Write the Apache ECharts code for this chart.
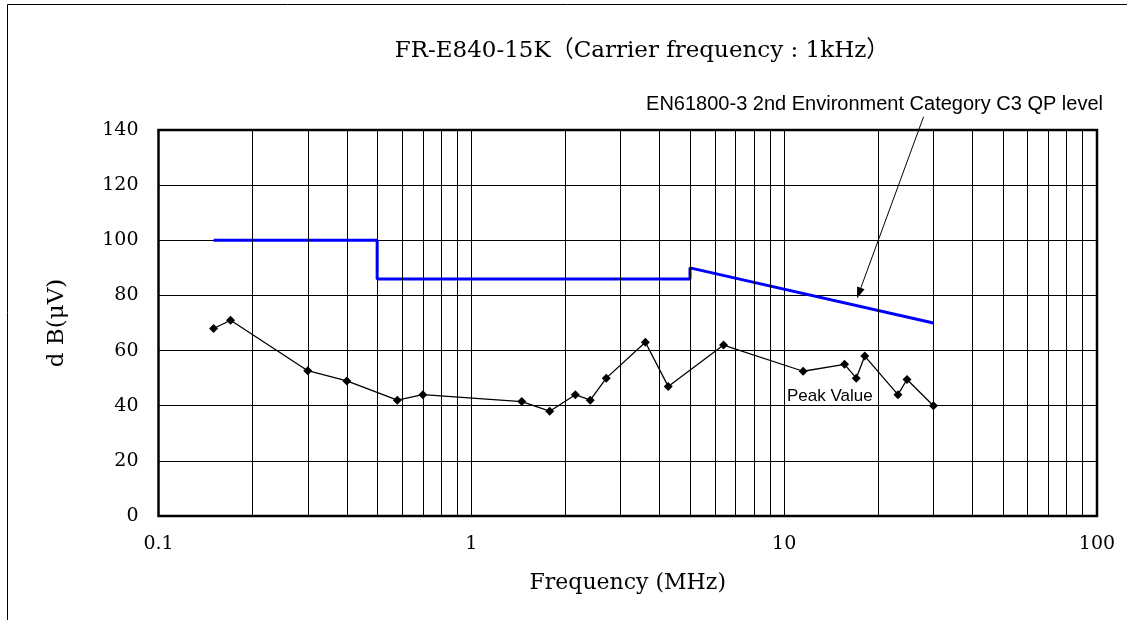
<!DOCTYPE html>
<html>
<head>
<meta charset="UTF-8">
<title>FR-E840-15K</title>
<script src="https://cdn.jsdelivr.net/npm/echarts@6/dist/echarts.min.js"></script>
<style>
  * { margin: 0; padding: 0; }
  body { background: #fff; }
  #chart { width: 1127px; height: 620px; }
</style>
</head>
<body>
<div id="chart"></div>
<script>
// peak value measurement (MHz / dBuV)
var peakFreq = [0.15, 0.17, 0.30, 0.40, 0.58, 0.70, 1.45, 1.78, 2.15, 2.40, 2.70, 3.60, 4.26, 6.4, 11.5, 15.6, 17.0, 18.1, 23.1, 24.7, 30];
var peakVal  = [68, 71, 52.7, 49, 42, 44, 41.5, 38, 44, 42, 50, 63, 47, 62, 52.5, 55, 50, 58, 44, 49.5, 40];

// EN61800-3 C3 QP limit
var limitFreq = [0.15, 0.5, 0.5, 5, 5, 30];
var limitVal  = [100, 100, 86, 86, 90, 70];

// minor vertical grid lines of the log axis
var minorGrid = [0.2, 0.3, 0.4, 0.5, 0.6, 0.7, 0.8, 0.9,
                 2, 3, 4, 5, 6, 7, 8, 9,
                 20, 30, 40, 50, 60, 70, 80, 90];

var serif = "'DejaVu Serif', 'Noto Sans CJK JP', serif";
var sans = "'Liberation Sans', Arial, sans-serif";

function pairs(xs, ys) {
  var out = [];
  for (var i = 0; i < xs.length; i++) out.push([xs[i], ys[i]]);
  return out;
}

var chart = echarts.init(document.getElementById('chart'));
var option = {
  animation: false,
  backgroundColor: '#fff',
  title: {
    text: 'FR-E840-15K（Carrier frequency : 1kHz）',
    left: 637,
    textAlign: 'center',
    top: 35,
    textStyle: { fontFamily: serif, fontSize: 23, fontWeight: 'normal', color: '#000' }
  },
  grid: {
    left: 158.5, right: 30, top: 130, bottom: 104,
    show: true, borderColor: '#000', borderWidth: 2.5, backgroundColor: 'transparent'
  },
  xAxis: {
    type: 'log', logBase: 10, min: 0.1, max: 100,
    name: 'Frequency (MHz)', nameLocation: 'middle', nameGap: 56,
    nameTextStyle: { fontFamily: serif, fontSize: 22, color: '#000' },
    axisLine: { show: false },
    axisTick: { show: false },
    axisLabel: { fontFamily: serif, fontSize: 19, color: '#000', margin: 19,
      formatter: function (v) { return String(v); } },
    splitLine: { show: true, lineStyle: { color: '#000', width: 1 } }
  },
  yAxis: {
    type: 'value', min: 0, max: 140, interval: 20,
    name: 'd B(μV)', nameLocation: 'middle', nameGap: 90, nameRotate: 90,
    nameTextStyle: { fontFamily: serif, fontSize: 23, color: '#000' },
    axisLine: { show: false },
    axisTick: { show: false },
    axisLabel: { fontFamily: serif, fontSize: 19, color: '#000', margin: 20 },
    splitLine: { show: true, lineStyle: { color: '#000', width: 1 } }
  },
  series: [
    {
      type: 'line', data: [], z: 1, silent: true,
      markLine: {
        silent: true, symbol: 'none', label: { show: false },
        lineStyle: { color: '#000', width: 1, type: 'solid' },
        data: minorGrid.map(function (f) { return { xAxis: f }; })
      }
    },
    {
      name: 'limit', type: 'line', data: pairs(limitFreq, limitVal), z: 3,
      symbol: 'none', lineStyle: { color: '#0000ff', width: 3 }
    },
    {
      name: 'peak', type: 'line', data: pairs(peakFreq, peakVal), z: 4,
      symbol: 'diamond', symbolSize: 9,
      itemStyle: { color: '#000' },
      lineStyle: { color: '#000', width: 1.3 }
    }
  ]
};
chart.setOption(option);

// annotations placed from data coordinates
var tip = chart.convertToPixel({ gridIndex: 0 }, [17.1, 79]);
var tail = chart.convertToPixel({ gridIndex: 0 }, [27.9, 144.8]);
var pk = chart.convertToPixel({ gridIndex: 0 }, [14.0, 43.5]);
var ang = Math.atan2(tip[1] - tail[1], tip[0] - tail[0]);
var ah = 11, aw = 4;
var bx = tip[0] - ah * Math.cos(ang), by = tip[1] - ah * Math.sin(ang);
chart.setOption({
  graphic: [
    { type: 'rect', silent: true, shape: { x: 7.5, y: 4.5, width: 1200, height: 1000 },
      style: { fill: 'none', stroke: '#000', lineWidth: 1 } },
    { type: 'text', silent: true, x: 1103, y: 104,
      style: { text: 'EN61800-3 2nd Environment Category C3 QP level', font: '20px ' + sans, fill: '#000',
        align: 'right', verticalAlign: 'middle' } },
    { type: 'line', silent: true, shape: { x1: tail[0], y1: tail[1], x2: bx, y2: by },
      style: { stroke: '#000', lineWidth: 1 } },
    { type: 'polygon', silent: true,
      shape: { points: [tip,
        [bx + aw * Math.sin(ang), by - aw * Math.cos(ang)],
        [bx - aw * Math.sin(ang), by + aw * Math.cos(ang)]] },
      style: { fill: '#000' } },
    { type: 'text', silent: true, x: pk[0], y: pk[1],
      style: { text: 'Peak Value', font: '17px ' + sans, fill: '#000', align: 'center', verticalAlign: 'middle' } }
  ]
});
</script>
</body>
</html>
